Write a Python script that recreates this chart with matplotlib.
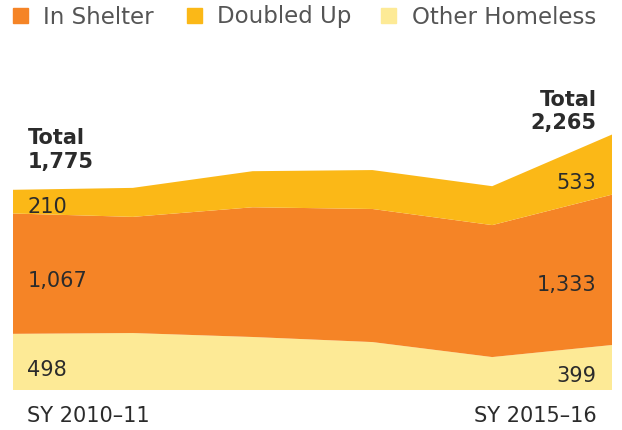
import matplotlib
matplotlib.use("Agg")
import matplotlib.pyplot as plt
from matplotlib.patches import Rectangle

plt.rcParams["font.family"] = ["DejaVu Sans"]

years = ["SY 2010–11", "SY 2011–12", "SY 2012–13", "SY 2013–14", "SY 2014–15", "SY 2015–16"]
other_homeless = [498, 505, 470, 425, 292, 399]
in_shelter = [1067, 1030, 1150, 1180, 1170, 1333]
doubled_up = [210, 257, 320, 345, 345, 533]
totals = [1775, 2265]
legend_labels = ["In Shelter", "Doubled Up", "Other Homeless"]

c_shelter = "#F58426"
c_doubled = "#FBB817"
c_other = "#FDEA96"
txt = "#2b2b2b"

W, H = 622, 431
fig = plt.figure(figsize=(W / 100, H / 100), dpi=100)
ax = fig.add_axes([13 / W, 40 / H, 599 / W, 291 / H])
x = list(range(len(years)))
ax.stackplot(x, other_homeless, in_shelter, doubled_up,
             colors=[c_other, c_shelter, c_doubled], linewidth=0)
ax.set_xlim(0, len(years) - 1)
ax.set_ylim(0, 2580)
ax.axis("off")

fs = 15
ax.text(0.12, totals[0] + 170, "Total\n" + f"{totals[0]:,}", fontsize=fs, fontweight="bold", color=txt,
        ha="left", va="bottom", linespacing=1.2)
ax.text(4.87, totals[1] + 20, "Total\n" + f"{totals[1]:,}", fontsize=fs, fontweight="bold", color=txt,
        ha="right", va="bottom", linespacing=1.2)

ax.text(0.12, other_homeless[0] / 2 - 60, f"{other_homeless[0]:,}", fontsize=fs, color=txt, va="center")
ax.text(0.12, other_homeless[0] + in_shelter[0] / 2 - 55, f"{in_shelter[0]:,}", fontsize=fs, color=txt, va="center")
ax.text(0.12, other_homeless[0] + in_shelter[0] + doubled_up[0] / 2 - 40, f"{doubled_up[0]:,}", fontsize=fs, color=txt, va="center")

ax.text(4.87, other_homeless[-1] / 2 - 65, f"{other_homeless[-1]:,}", fontsize=fs, color=txt, va="center", ha="right")
ax.text(4.87, other_homeless[-1] + in_shelter[-1] / 2 - 130, f"{in_shelter[-1]:,}", fontsize=fs, color=txt, va="center", ha="right")
ax.text(4.87, other_homeless[-1] + in_shelter[-1] + doubled_up[-1] / 2 - 150, f"{doubled_up[-1]:,}", fontsize=fs, color=txt, va="center", ha="right")

ax.text(0.12, -225, years[0], fontsize=fs, color=txt, va="center", ha="left")
ax.text(4.87, -225, years[-1], fontsize=fs, color=txt, va="center", ha="right")

# legend drawn by hand in pixel coordinates
sq_x = [13, 187, 381]
tx_x = [43, 217, 412]
for sx, tx, lab, col in zip(sq_x, tx_x, legend_labels, [c_shelter, c_doubled, c_other]):
    fig.patches.append(Rectangle((sx / W, 1 - 24 / H), 15 / W, 15 / H, color=col,
                                 transform=fig.transFigure, figure=fig))
    fig.text(tx / W, 1 - 17 / H, lab, fontsize=16.5, color="#555555", va="center", ha="left")

fig.savefig("out.png", dpi=100)
